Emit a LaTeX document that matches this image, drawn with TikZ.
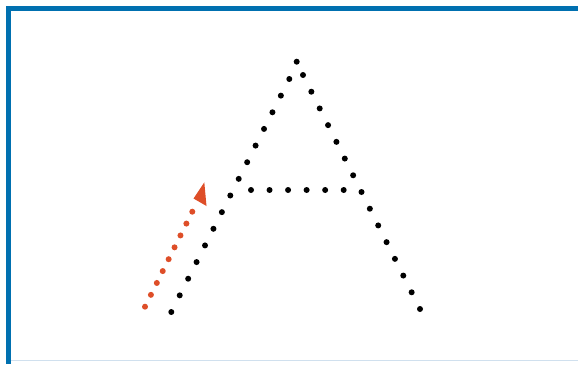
\documentclass[tikz,border=0pt]{standalone}
\definecolor{frameblue}{RGB}{0,112,176}
\definecolor{lightline}{RGB}{208,224,238}
\definecolor{dotred}{RGB}{222,78,40}
\tikzset{
  blackdot/.style={fill=black},
  reddot/.style={fill=dotred},
}
\begin{document}
\begin{tikzpicture}[x=1pt,y=-1pt]
\useasboundingbox (0,0) rectangle (578,364);
\fill[white] (0,0) rectangle (578,364);
% frame
\fill[frameblue] (6,6) rectangle (578,11);
\fill[frameblue] (6,6) rectangle (11,364);
\fill[lightline] (11,359.5) rectangle (578,361);
% apex
\fill[blackdot] (296.7,61.7) circle (3);
% left leg: 15 dots
\foreach \i in {0,...,14}{
  \fill[blackdot] ({289.3+(171.3-289.3)*\i/14},{79+(312-79)*\i/14}) circle (3);
}
% right leg: 15 dots
\foreach \i in {0,...,14}{
  \fill[blackdot] ({303+(420-303)*\i/14},{75+(309-75)*\i/14}) circle (3);
}
% crossbar
\foreach \i in {0,...,5}{
  \fill[blackdot] ({251+(343.7-251)*\i/5},190) circle (3);
}
% red dotted arrow
\foreach \i in {0,...,8}{
  \fill[reddot] ({145+(192.3-145)*\i/8},{306.7+(211.7-306.7)*\i/8}) circle (3);
}
\fill[dotred] (204.3,182.3) -- (193.5,198.5) -- (206.5,206) -- cycle;
\end{tikzpicture}
\end{document}
